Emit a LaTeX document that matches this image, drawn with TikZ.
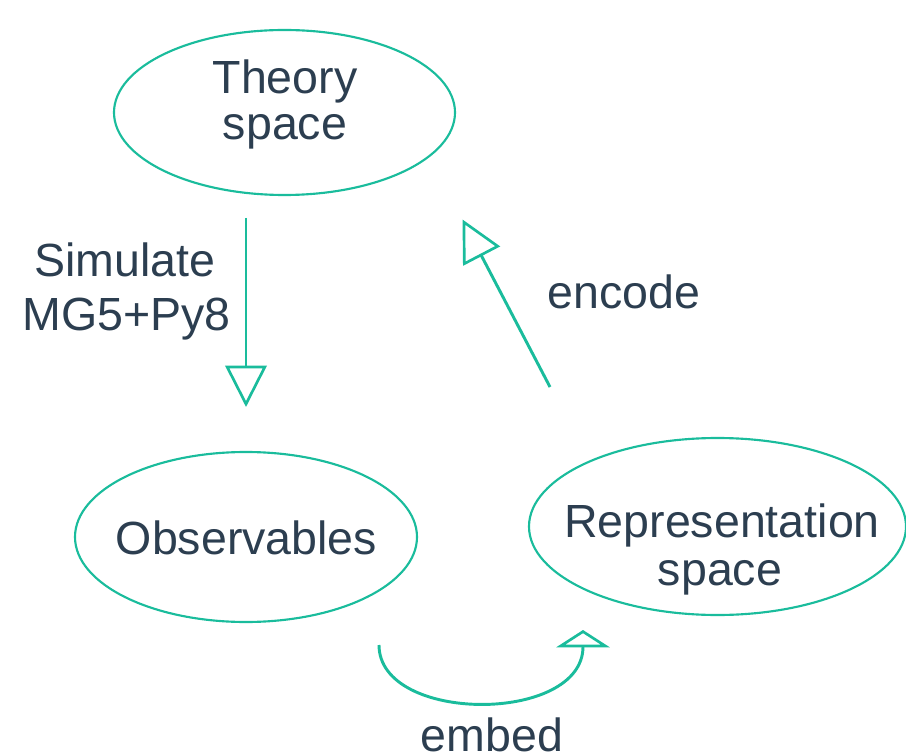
\documentclass[tikz,border=0pt]{standalone}
\usepackage{fontspec}
\setmainfont{Liberation Sans}
\usetikzlibrary{shapes.geometric,arrows.meta}
\definecolor{tealg}{HTML}{1ABC9C}
\definecolor{inkd}{HTML}{2C3E50}
\begin{document}
\begin{tikzpicture}[x=0.75pt,y=-0.75pt,
  oval/.style={ellipse,draw=tealg,line width=1.6pt,inner sep=0pt},
  lbl/.style={anchor=base,inner sep=0pt,text=inkd,font=\fontsize{34.9pt}{40pt}\selectfont},
  conn/.style={draw=tealg,line width=2.2pt},
  bigtip/.style={-{Triangle[open,length=31pt,width=31pt,line width=2pt]}},
  flattip/.style={-{Triangle[open,length=13pt,width=40pt,line width=2pt]}}]
\useasboundingbox (0,0) rectangle (906,755);
% ellipses
\node[oval,minimum width=255.75pt,minimum height=123.75pt] (theory) at (284.5,112.5) {};
\node[oval,minimum width=256.5pt,minimum height=127.5pt] (obs) at (246,537) {};
\node[oval,minimum width=282.75pt,minimum height=132.75pt] (rep) at (717.5,526.5) {};
% texts
\node[lbl] (t1) at (285,94) {Theory};
\node[lbl] (t2) at (285,140) {space};
\node[lbl] (o1) at (246.5,554) {Observables};
\node[lbl] (r1) at (722,537) {Representation};
\node[lbl] (r2) at (720,585) {space};
\node[lbl] (s1) at (125,277) {Simulate};
\node[lbl] (s2) at (126.5,331) {MG5+Py8};
\node[lbl] (enc) at (624,309) {encode};
\node[lbl] (emb) at (492,751) {embed};
% connector ends
\coordinate (simA) at (246,218);
\coordinate (simB) at (246,407);
\coordinate (encA) at (550,387);
\coordinate (encB) at (462.5,219.5);
\coordinate (embA) at (379,645);
\coordinate (embB) at (583,630);
% connectors
\draw[conn,bigtip] (simA) -- (simB);
\draw[conn,bigtip] (encA) -- (encB);
\draw[conn,flattip] (embA) .. controls (379,724) and (583,724) .. (embB);
\end{tikzpicture}
\end{document}
